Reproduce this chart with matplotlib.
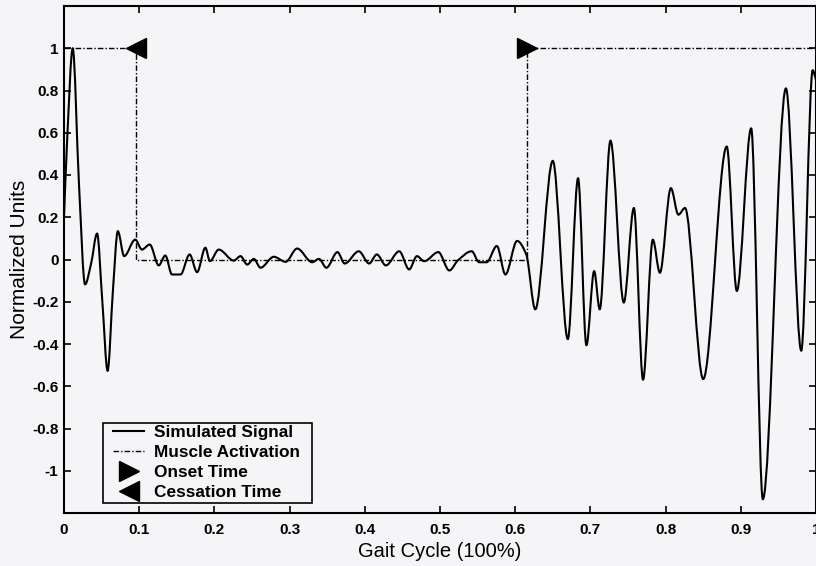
import matplotlib
matplotlib.use("Agg")
import matplotlib.pyplot as plt
from matplotlib.lines import Line2D
from matplotlib.path import Path
from matplotlib.patches import PathPatch
from matplotlib.legend_handler import HandlerLine2D

# Simulated EMG-like signal over the gait cycle (peaks and troughs)
signal_x = [0.000, 0.004, 0.0116, 0.020, 0.028, 0.036, 0.044, 0.051, 0.058, 0.065,
            0.0716, 0.080, 0.0947, 0.1036, 0.114, 0.126, 0.1347, 0.1436, 0.155,
            0.167, 0.177, 0.188, 0.194, 0.2058, 0.2258, 0.2347, 0.2436, 0.2524,
            0.2613, 0.279, 0.2947, 0.310, 0.330, 0.339, 0.349, 0.3636, 0.3733,
            0.392, 0.4058, 0.416, 0.428, 0.4458, 0.459, 0.4693, 0.479, 0.4978,
            0.5124, 0.5236, 0.5422, 0.552, 0.562, 0.5756, 0.587, 0.6025, 0.6147,
            0.6267, 0.650, 0.670, 0.6836, 0.6947, 0.705, 0.7124, 0.7267, 0.7444,
            0.7578, 0.770, 0.783, 0.7924, 0.807, 0.817, 0.8258, 0.850, 0.8813,
            0.8947, 0.9138, 0.9293, 0.960, 0.9804, 0.9956, 1.000]
signal_y = [0.20, 0.55, 1.00, 0.35, -0.118, -0.02, 0.123, -0.20, -0.527, -0.15,
            0.134, 0.016, 0.094, 0.047, 0.071, -0.028, 0.019, -0.071, -0.071,
            0.024, -0.060, 0.056, -0.008, 0.047, -0.005, 0.016, -0.024, 0.003,
            -0.039, 0.013, -0.011, 0.052, -0.013, 0.003, -0.039, 0.035, -0.019,
            0.039, -0.019, 0.024, -0.028, 0.039, -0.047, 0.016, -0.008, 0.035,
            -0.052, -0.005, 0.039, -0.013, -0.013, 0.064, -0.071, 0.088, 0.024,
            -0.236, 0.467, -0.377, 0.385, -0.406, -0.055, -0.236, 0.563, -0.204,
            0.244, -0.569, 0.094, -0.063, 0.338, 0.212, 0.244, -0.566, 0.535,
            -0.149, 0.621, -1.135, 0.810, -0.432, 0.896, 0.850]

# On/off muscle activation envelope
cessation_time = 0.096
onset_time = 0.6156
activation_x = [0.0, cessation_time, cessation_time, onset_time, onset_time, 1.0]
activation_y = [1, 1, 0, 0, 1, 1]

x_ticks = [0, 0.1, 0.2, 0.3, 0.4, 0.5, 0.6, 0.7, 0.8, 0.9, 1]
x_ticklabels = ["0", "0.1", "0.2", "0.3", "0.4", "0.5", "0.6", "0.7", "0.8", "0.9", "1"]
y_ticks = [-1, -0.8, -0.6, -0.4, -0.2, 0, 0.2, 0.4, 0.6, 0.8, 1]
y_ticklabels = ["-1", "-0.8", "-0.6", "-0.4", "-0.2", "0", "0.2", "0.4", "0.6", "0.8", "1"]


def smooth_path(xs, ys):
    """Cubic Bezier path through every sample, flat tangents at turning points."""
    n = len(xs)
    slopes = []
    for i in range(n):
        if i == 0:
            m = (ys[1] - ys[0]) / (xs[1] - xs[0])
        elif i == n - 1:
            m = (ys[-1] - ys[-2]) / (xs[-1] - xs[-2])
        else:
            d0 = (ys[i] - ys[i - 1]) / (xs[i] - xs[i - 1])
            d1 = (ys[i + 1] - ys[i]) / (xs[i + 1] - xs[i])
            m = 0.0 if d0 * d1 <= 0 else 2.0 / (1.0 / d0 + 1.0 / d1)
        slopes.append(m)
    verts = [(xs[0], ys[0])]
    codes = [Path.MOVETO]
    for i in range(n - 1):
        h = xs[i + 1] - xs[i]
        verts += [(xs[i] + h / 3, ys[i] + slopes[i] * h / 3),
                  (xs[i + 1] - h / 3, ys[i + 1] - slopes[i + 1] * h / 3),
                  (xs[i + 1], ys[i + 1])]
        codes += [Path.CURVE4] * 3
    return Path(verts, codes)


bg = "#f5f5f8"
plt.rcParams["font.family"] = ["Liberation Sans", "DejaVu Sans"]

fig = plt.figure(figsize=(8.16, 5.66), dpi=100, facecolor=bg)
ax = fig.add_axes([64 / 816, 1 - 513 / 566, 752 / 816, 507 / 566], facecolor=bg)

ax.add_patch(PathPatch(smooth_path(signal_x, signal_y), facecolor="none",
                       edgecolor="black", lw=1.5, joinstyle="round"))
ax.plot(activation_x, activation_y, color="black", lw=1.0, linestyle="-.",
        dashes=(4, 1.5, 1, 1.5))
ax.plot([onset_time], [1], marker=">", color="black", markersize=14, linestyle="none")
ax.plot([cessation_time], [1], marker="<", color="black", markersize=14, linestyle="none")

ax.set_xlim(0, 1)
ax.set_ylim(-1.2, 1.2)
ax.set_xticks(x_ticks)
ax.set_xticklabels(x_ticklabels, fontweight="bold", fontsize=11)
ax.set_yticks(y_ticks)
ax.set_yticklabels(y_ticklabels, fontweight="bold", fontsize=11)
ax.tick_params(direction="in", top=True, right=True, length=5, width=1.2)
ax.tick_params(axis="x", pad=7)
ax.tick_params(axis="y", pad=4)
for s in ax.spines.values():
    s.set_linewidth(1.5)

ax.set_xlabel("Gait Cycle (100%)", fontsize=14.5, labelpad=3.5)
ax.set_ylabel("Normalized Units", fontsize=15, labelpad=2.5)

handles = [
    Line2D([], [], color="black", lw=1.5),
    Line2D([], [], color="black", lw=1.0, linestyle="-.", dashes=(4, 1.5, 1, 1.5)),
    Line2D([], [], color="black", marker=">", markersize=15, linestyle="none"),
    Line2D([], [], color="black", marker="<", markersize=15, linestyle="none"),
]
labels = ["Simulated Signal", "Muscle Activation", "Onset Time", "Cessation Time"]
leg = ax.legend(handles, labels, loc="lower left",
                bbox_to_anchor=(0.0515, 0.0203, 0.278, 0.16), mode="expand",
                handler_map={Line2D: HandlerLine2D(xpad=0.45)},
                frameon=True, fancybox=False, edgecolor="black", facecolor=bg,
                framealpha=1, prop={"weight": "bold", "size": 12.4},
                handlelength=2.25, handletextpad=0.55, labelspacing=0.28,
                borderpad=0.15, borderaxespad=0)
leg.get_frame().set_linewidth(1.2)

fig.savefig("out.png", dpi=100, facecolor=bg)
